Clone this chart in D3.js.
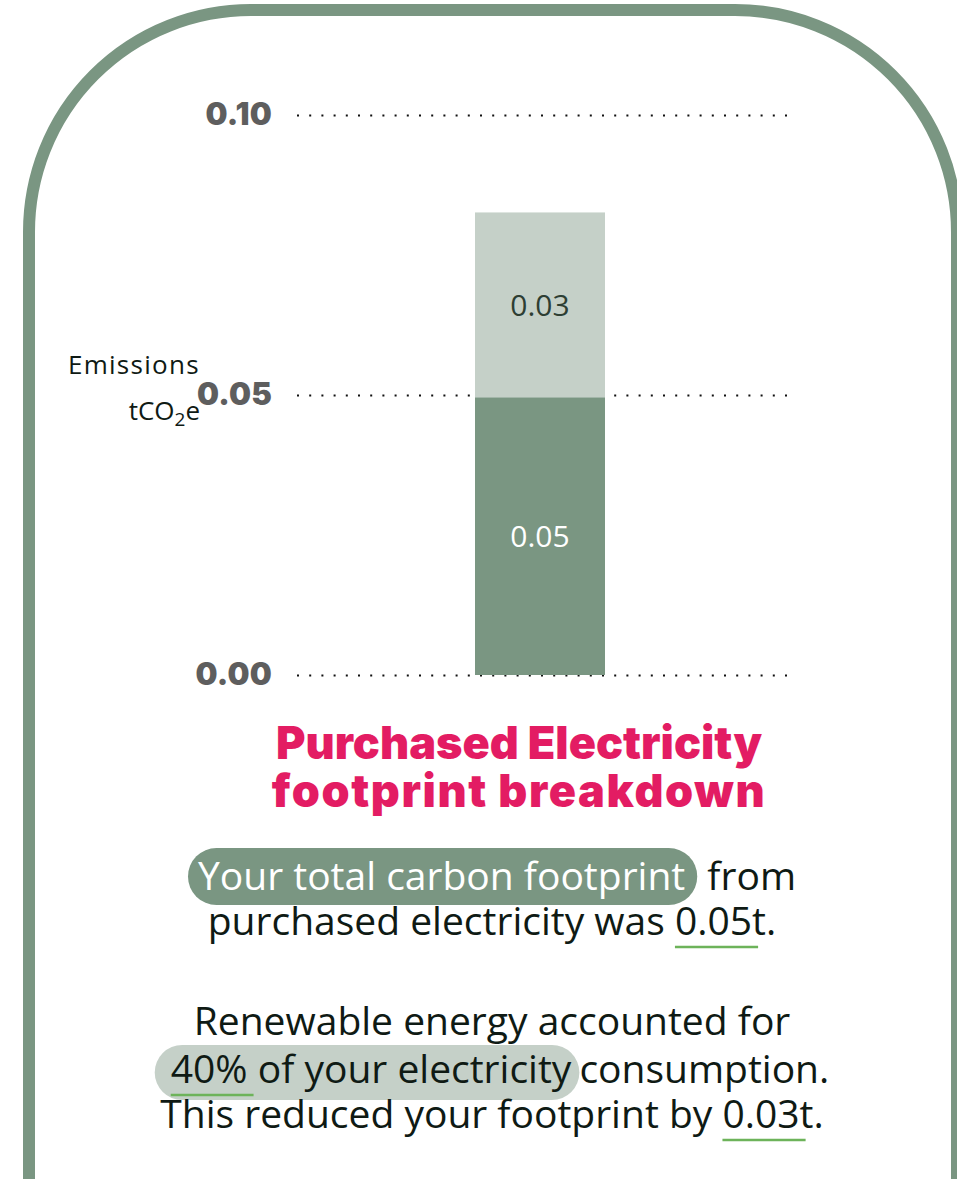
<!DOCTYPE html>
<html>
<head>
<meta charset="utf-8">
<script src="https://cdn.jsdelivr.net/npm/d3@7"></script>
<style>
  html, body { margin: 0; padding: 0; background: #ffffff; }
  svg { display: block; }
  svg text { white-space: pre; }
</style>
</head>
<body>
<svg id="chart" width="957" height="1179"></svg>
<script>
// ---- data ----
const categories = ["Purchased Electricity"];
const nonRenewable = [0.0496];        // tCO2e from purchased electricity
const renewableReduction = [0.033];   // tCO2e avoided through renewable supply
const tickValues = [0, 0.05, 0.10];
const tickLabels = ["0.00", "0.05", "0.10"];
const seriesKeys = ["nonRenewable", "renewableReduction"];

// ---- styling ----
const sage = "#7a9682";
const sageLight = "#c5d0c8";
const magenta = "#e31c63";
const ink = "#0f1a14";
const green = "#6db35a";
const bodyFont = "'Open Sans', 'Noto Sans', sans-serif";
const heavyFont = "Inter, 'Noto Sans', sans-serif";

const svg = d3.select("#chart");
const fmt = d3.format(".2f");

// rounded frame (top corners only)
const R = 222;
svg.append("path")
  .attr("d", `M29,1200 V${10 + R} A${R},${R} 0 0 1 ${29 + R},10 H${957 - R} A${R},${R} 0 0 1 957,${10 + R} V1200`)
  .attr("fill", "none")
  .attr("stroke", sage)
  .attr("stroke-width", 12);

// scales
const y = d3.scaleLinear().domain([0, 0.10]).range([675, 115]);
const x = d3.scaleBand().domain(categories).range([475, 605]).padding(0);

// axis with dotted grid lines
const gridRight = 787, gridLeft = 293;
const axis = d3.axisLeft(y)
  .tickValues(tickValues)
  .tickFormat((d, i) => tickLabels[i])
  .tickSizeInner(gridRight - gridLeft)
  .tickSizeOuter(0)
  .tickPadding(21);

const gAxis = svg.append("g")
  .attr("transform", `translate(${gridRight},0)`)
  .call(axis);
gAxis.select(".domain").remove();
gAxis.selectAll(".tick line")
  .attr("stroke", "#111")
  .attr("stroke-width", 2)
  .attr("stroke-dasharray", "2 10.2");
gAxis.selectAll(".tick text")
  .attr("fill", "#5e5e5e")
  .style("font-family", heavyFont)
  .style("font-weight", 900)
  .style("font-size", "31px")
  .style("letter-spacing", "0.2px");

// axis title
const unitLabel = svg.append("g").style("font-family", bodyFont).style("font-size", "26px").attr("fill", ink);
unitLabel.append("text").attr("x", 200).attr("y", 374).attr("text-anchor", "end").style("letter-spacing", "1.3px").text("Emissions");
const unit = unitLabel.append("text").attr("x", 200).attr("y", 420).attr("text-anchor", "end");
unit.append("tspan").text("tCO");
unit.append("tspan").attr("dy", 6).style("font-size", "19px").text("2");
unit.append("tspan").attr("dy", -6).text("e");

// stacked bar
const rows = categories.map((c, i) => ({ category: c, nonRenewable: nonRenewable[i], renewableReduction: renewableReduction[i] }));
const stacked = d3.stack().keys(seriesKeys)(rows);
const fills = { nonRenewable: sage, renewableReduction: sageLight };
const labelFills = { nonRenewable: "#ffffff", renewableReduction: "#2d3e33" };

const layers = svg.append("g").selectAll("g").data(stacked).join("g")
  .attr("fill", d => fills[d.key]);
layers.selectAll("rect").data(d => d.map(v => ({ key: d.key, v }))).join("rect")
  .attr("x", d => x(d.v.data.category))
  .attr("width", x.bandwidth())
  .attr("y", d => y(d.v[1]))
  .attr("height", d => y(d.v[0]) - y(d.v[1]));
layers.selectAll("text").data(d => d.map(v => ({ key: d.key, v }))).join("text")
  .attr("x", d => x(d.v.data.category) + x.bandwidth() / 2)
  .attr("y", d => (y(d.v[0]) + y(d.v[1])) / 2)
  .attr("dy", "0.36em")
  .attr("text-anchor", "middle")
  .attr("fill", d => labelFills[d.key])
  .style("font-family", bodyFont)
  .style("font-size", "30px")
  .text(d => fmt(d.v[1] - d.v[0]));

// title
const title = svg.append("text")
  .attr("text-anchor", "middle")
  .attr("fill", magenta)
  .style("font-family", heavyFont)
  .style("font-weight", 900)
  .style("font-size", "45px");
title.append("tspan").attr("x", 519).attr("y", 759).text("Purchased Electricity");
title.append("tspan").attr("x", 519).attr("y", 807).style("letter-spacing", "1.6px").text("footprint breakdown");

// summary sentences
const total = nonRenewable[0] + renewableReduction[0];
const share = d3.format(".0%")(renewableReduction[0] / total);
const lines = [
  { y: 890, segs: [
    { t: "Your total carbon footprint", pill: "dark", padL: 10, padR: 12 },
    { t: " from" } ] },
  { y: 935, segs: [
    { t: "purchased electricity was " },
    { t: fmt(nonRenewable[0]), ul: true },
    { t: "t." } ] },
  { y: 1035, segs: [ { t: "Renewable energy accounted for" } ] },
  { y: 1083, segs: [
    { t: share, pill: "light", ul: true, padL: 16 },
    { t: " of your electricity", pill: "light", padR: 8 },
    { t: "consumption." } ] },
  { y: 1128, segs: [
    { t: "This reduced your footprint by " },
    { t: fmt(renewableReduction[0]), ul: true },
    { t: "t." } ] }
];

const centerX = 492;
const bodySize = 39;
const textLayer = svg.append("g").style("font-family", bodyFont).style("font-size", bodySize + "px");
const measure = svg.append("text").style("font-family", bodyFont).style("font-size", bodySize + "px")
  .style("white-space", "pre").attr("visibility", "hidden");
const widthOf = s => { measure.text(s); return measure.node().getComputedTextLength(); };

lines.forEach(line => {
  const segs = line.segs.map(s => Object.assign({}, s, { w: widthOf(s.t) }));
  const total = d3.sum(segs, s => s.w + (s.padL || 0) + (s.padR || 0));
  let cx = centerX - total / 2;
  const pills = [];
  segs.forEach(s => {
    const start = cx;
    cx += s.padL || 0;
    s.x = cx;
    cx += s.w;
    cx += s.padR || 0;
    if (s.pill) {
      const last = pills[pills.length - 1];
      if (last && last.kind === s.pill && Math.abs(last.x1 - start) < 0.5) last.x1 = cx;
      else pills.push({ kind: s.pill, x0: start, x1: cx });
    }
  });
  pills.forEach(p => {
    const h = p.kind === "dark" ? 57 : 55;
    const top = p.kind === "dark" ? line.y - 42 : line.y - 38;
    textLayer.append("rect")
      .attr("x", p.x0).attr("y", top)
      .attr("width", p.x1 - p.x0).attr("height", h)
      .attr("rx", h / 2)
      .attr("fill", p.kind === "dark" ? sage : sageLight);
  });
  segs.forEach(s => {
    const ws = s.t.match(/^\s*/)[0];
    const lead = ws ? widthOf(ws) : 0;
    textLayer.append("text")
      .attr("x", s.x).attr("y", line.y)
      .attr("fill", s.pill === "dark" ? "#ffffff" : ink)
      .text(s.t);
    if (s.ul) {
      textLayer.append("line")
        .attr("x1", s.x + lead).attr("x2", s.x + s.w + 6)
        .attr("y1", line.y + 12).attr("y2", line.y + 12)
        .attr("stroke", green).attr("stroke-width", 2.5);
    }
  });
});
measure.remove();
</script>
</body>
</html>
